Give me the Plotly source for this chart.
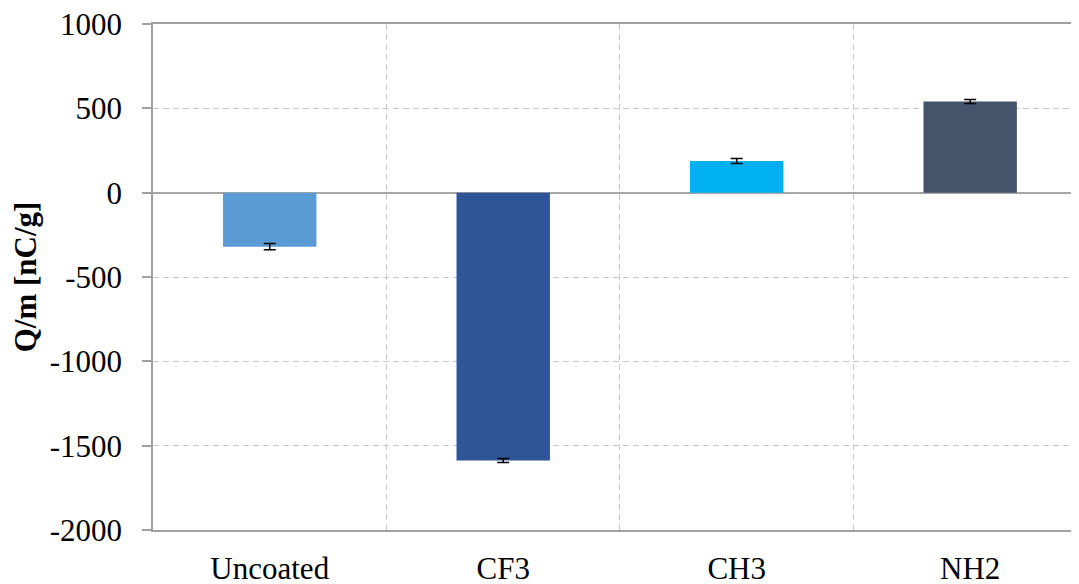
import plotly.graph_objects as go

categories = ["Uncoated", "CF3", "CH3", "NH2"]
values = [-320, -1588, 188, 540]
errors = [18, 12, 15, 12]
colors = ["#5B9BD5", "#2F5597", "#00B0F0", "#44546A"]
y_ticks = [1000, 500, 0, -500, -1000, -1500, -2000]

FONT = "Liberation Serif, Times New Roman, serif"

fig = go.Figure()
fig.add_trace(go.Bar(
    x=categories, y=values,
    marker=dict(color=colors, line=dict(width=0)),
    width=0.4,
    error_y=dict(type="data", array=errors, visible=True,
                 color="black", thickness=1.5, width=6),
))

# page body has an 8px margin, so the figure is sized/shifted to compensate
fig.update_layout(
    width=1071, height=576,
    margin=dict(l=145, r=0, t=16, b=54, autoexpand=False),
    paper_bgcolor="white", plot_bgcolor="white",
    showlegend=False,
    font=dict(family=FONT, size=31, color="black"),
    xaxis=dict(
        type="category",
        automargin=False,
        range=[-0.5, 3.466],
        tickson="boundaries",
        ticks="",
        showgrid=True, gridcolor="#C8C8C8", griddash="6px,4px", gridwidth=1,
        showline=True, linecolor="#A0A0A0", linewidth=1.5, mirror=True,
        tickfont=dict(family=FONT, size=31, color="black"),
        ticklabelstandoff=10,
        ticklabeloverflow="allow",
    ),
    yaxis=dict(
        automargin=False,
        range=[-2000, 1000],
        tickvals=y_ticks,
        ticktext=[str(v) for v in y_ticks],
        ticks="outside", ticklen=9, tickcolor="#A0A0A0", tickwidth=1.5,
        showgrid=True, gridcolor="#C8C8C8", griddash="6px,4px", gridwidth=1,
        zeroline=True, zerolinecolor="#A6A6A6", zerolinewidth=1.5,
        showline=True, linecolor="#A0A0A0", linewidth=1.5,
        tickfont=dict(family=FONT, size=31, color="black"),
        ticklabelstandoff=14,
        ticklabeloverflow="allow",
        title=dict(text="<b>Q/m [nC/g]</b>", font=dict(family=FONT, size=31, color="black"),
                   standoff=14),
    ),
)

fig.write_html("out.html")
